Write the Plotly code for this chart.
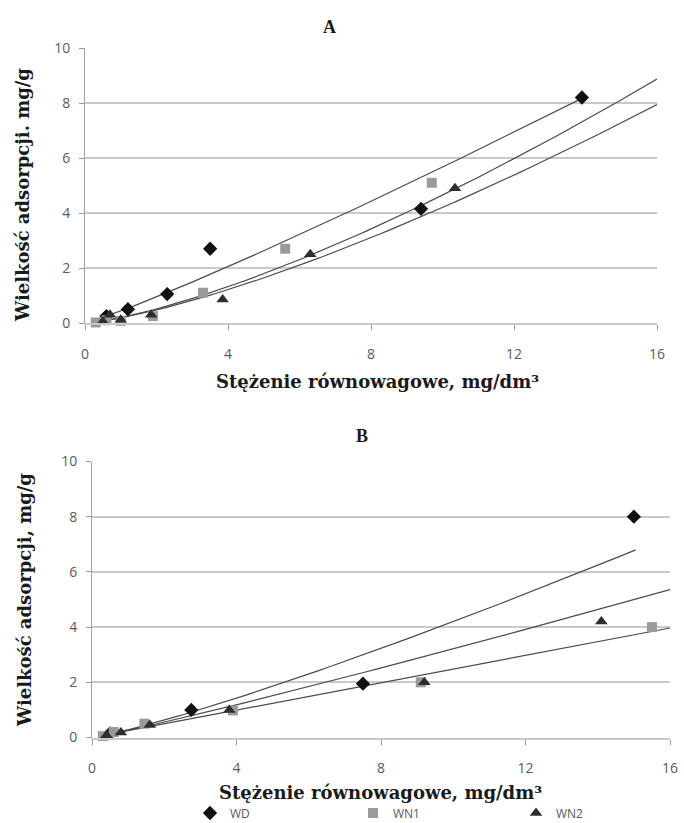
import numpy as np
import plotly.graph_objects as go

# ---------------- data: panel A ----------------
a_wd_x = [0.6, 1.2, 2.3, 3.5, 9.4, 13.9]
a_wd_y = [0.25, 0.5, 1.05, 2.7, 4.15, 8.2]
a_wn1_x = [0.3, 0.6, 1.0, 1.9, 3.3, 5.6, 9.7]
a_wn1_y = [0.02, 0.1, 0.08, 0.25, 1.1, 2.7, 5.1]
a_wn2_x = [0.5, 0.7, 1.0, 1.85, 3.85, 6.3, 10.35]
a_wn2_y = [0.05, 0.3, 0.12, 0.3, 0.85, 2.5, 4.9]

# power trendlines y = k * x^n (WD, WN1, WN2)
a_trend_k = [0.44, 0.196, 0.185]
a_trend_n = [1.11, 1.375, 1.356]
a_trend_from = [0.4, 0.3, 0.3]
a_trend_to = [13.9, 16.0, 16.0]

# ---------------- data: panel B ----------------
b_wd_x = [0.5, 2.75, 7.5, 15.0]
b_wd_y = [0.15, 1.0, 1.95, 8.0]
b_wn1_x = [0.3, 0.6, 1.45, 3.9, 9.1, 15.5]
b_wn1_y = [0.05, 0.2, 0.5, 0.98, 2.0, 4.0]
b_wn2_x = [0.4, 0.8, 1.6, 3.8, 9.2, 14.1]
b_wn2_y = [0.08, 0.18, 0.45, 1.0, 2.0, 4.2]

b_trend_k = [0.278, 0.248, 0.261]
b_trend_n = [1.179, 1.0, 1.09]
b_trend_from = [0.3, 0.3, 0.3]
b_trend_to = [15.05, 16.0, 16.0]

x_ticks = [0, 4, 8, 12, 16]
y_ticks = [0, 2, 4, 6, 8, 10]
series_names = ["WD", "WN1", "WN2"]

W, H = 684, 823

def px_x(p):
    return p / W

def px_y(p):
    return 1 - p / H

fig = go.Figure()

styles = [
    dict(symbol="diamond", color="#111111", size=11),
    dict(symbol="square", color="#9a9a9a", size=10),
    dict(symbol="triangle-up", color="#2e2e2e", size=11),
]

panels = [
    ("x", "y", [(a_wd_x, a_wd_y), (a_wn1_x, a_wn1_y), (a_wn2_x, a_wn2_y)],
     a_trend_k, a_trend_n, a_trend_from, a_trend_to, False),
    ("x2", "y2", [(b_wd_x, b_wd_y), (b_wn1_x, b_wn1_y), (b_wn2_x, b_wn2_y)],
     b_trend_k, b_trend_n, b_trend_from, b_trend_to, True),
]

for xa, ya, series, tk, tn, tf, tt, show_leg in panels:
    for k, n, f, t in zip(tk, tn, tf, tt):
        xs = np.linspace(f, t, 80)
        fig.add_trace(go.Scatter(x=xs, y=k * xs ** n, mode="lines",
                                 line=dict(color="#4a4a4a", width=1.2),
                                 xaxis=xa, yaxis=ya, showlegend=False,
                                 hoverinfo="skip"))
    for (sx, sy), name, st in zip(series, series_names, styles):
        fig.add_trace(go.Scatter(x=sx, y=sy, mode="markers", name=name,
                                 marker=dict(symbol=st["symbol"], color=st["color"],
                                             size=st["size"], line=dict(width=0)),
                                 xaxis=xa, yaxis=ya, showlegend=show_leg,
                                 cliponaxis=False))

tick_font = dict(family="Open Sans", size=14, color="#5a5a5a")
grid_col = "#c9c9c9"

def xaxis_cfg(dom, anchor, standoff):
    return dict(domain=dom, anchor=anchor, range=[0, 16], tickvals=x_ticks,
                showgrid=False, zeroline=False, showline=True, linecolor=grid_col,
                linewidth=2, ticks="outside", ticklen=5, tickcolor="#9a9a9a",
                tickfont=tick_font, ticklabelstandoff=standoff, fixedrange=True)

def yaxis_cfg(dom, anchor):
    return dict(domain=dom, anchor=anchor, range=[0, 10], tickvals=y_ticks,
                showgrid=True, gridcolor=grid_col, gridwidth=2, zeroline=False,
                showline=True, linecolor="#a0a0a0", linewidth=1,
                ticks="outside", ticklen=5, tickcolor="#9a9a9a",
                tickfont=tick_font, ticklabelstandoff=6, fixedrange=True)

fig.update_layout(
    width=W, height=H,
    margin=dict(l=0, r=0, t=0, b=0, autoexpand=False),
    paper_bgcolor="white", plot_bgcolor="white",
    xaxis=xaxis_cfg([px_x(85), px_x(657)], "y", 12),
    yaxis=yaxis_cfg([px_y(323), px_y(48)], "x"),
    xaxis2=xaxis_cfg([px_x(92), px_x(670)], "y2", 12),
    yaxis2=yaxis_cfg([px_y(737.5), px_y(461.5)], "x2"),
    legend=dict(orientation="h", x=px_x(190), y=px_y(813), yanchor="middle",
                xanchor="left", entrywidth=118, entrywidthmode="pixels",
                font=dict(family="Open Sans", size=12, color="#5a5a5a"),
                itemwidth=30, bgcolor="rgba(0,0,0,0)",
                tracegroupgap=0),
)

title_font = dict(family="Liberation Serif", size=18, color="#1a1a1a")
axis_title_font = dict(family="DejaVu Serif", size=18, color="#1a1a1a")

ann = [
    dict(text="<b>A</b>", x=px_x(329), y=px_y(27), font=title_font),
    dict(text="<b>B</b>", x=px_x(362), y=px_y(436), font=title_font),
    dict(text="<b>Stężenie równowagowe, mg/dm³</b>", x=px_x(377), y=px_y(381),
         font=axis_title_font),
    dict(text="<b>Stężenie równowagowe, mg/dm³</b>", x=px_x(381), y=px_y(792),
         font=axis_title_font),
    dict(text="<b>Wielkość adsorpcji. mg/g</b>", x=px_x(22), y=px_y(195),
         font=axis_title_font, textangle=-90),
    dict(text="<b>Wielkość adsorpcji, mg/g</b>", x=px_x(24), y=px_y(600),
         font=axis_title_font, textangle=-90),
]
for a in ann:
    fig.add_annotation(xref="paper", yref="paper", showarrow=False,
                       xanchor="center", yanchor="middle", **a)

fig.write_html("out.html",
               config={"displayModeBar": False},
               post_script="document.body.style.margin='0';"
                           "document.body.style.overflow='hidden';")
